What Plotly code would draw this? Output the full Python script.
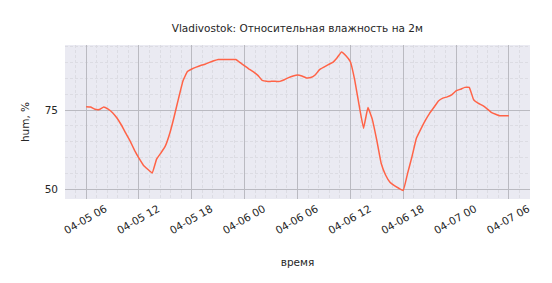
import pandas as pd
import plotly.graph_objects as go

title_text = "Vladivostok: Относительная влажность на 2м"
x_title = "время"
y_title = "hum, %"

start_time = "2024-04-05 06:00"
step = "30min"
hum = [
    76.1, 76.0, 75.3, 75.2, 76.0, 75.3, 74.2, 72.5, 70.3, 67.7,
    65.2, 62.3, 59.8, 57.6, 56.3, 55.1, 59.5, 61.5, 63.7, 67.7,
    73.0, 78.8, 84.3, 87.2, 88.0, 88.6, 89.1, 89.5, 90.1, 90.6,
    91.0, 91.0, 91.0, 91.0, 91.0, 90.0, 89.0, 88.0, 87.1, 86.0,
    84.4, 84.1, 84.1, 84.1, 84.1, 84.6, 85.3, 85.8, 86.1, 85.8,
    85.2, 85.3, 86.1, 87.8, 88.6, 89.4, 90.1, 91.6, 93.4, 92.2,
    90.3, 84.5, 76.5, 69.3, 75.8, 72.0, 65.5, 58.2, 54.5, 52.2,
    51.1, 50.3, 49.6, 55.0, 60.3, 66.1, 69.0, 71.7, 74.0, 75.9,
    77.9, 78.8, 79.2, 79.8, 81.1, 81.6, 82.2, 82.2, 78.3, 77.2,
    76.5, 75.5, 74.3, 73.7, 73.2, 73.2, 73.2,
]
times = pd.date_range(start_time, periods=len(hum), freq=step)

y_tick_vals = [50, 75]
y_tick_text = ["50", "75"]

fig = go.Figure()
fig.add_trace(go.Scatter(
    x=times, y=hum, mode="lines",
    line=dict(color="#FF6347", width=1.5, shape="spline", smoothing=0.3),
    showlegend=False,
))

font_family = "DejaVu Sans"
fig.update_layout(
    width=552, height=283,
    margin=dict(l=65, r=22, t=45, b=84),
    paper_bgcolor="white",
    plot_bgcolor="#EAEAF2",
    font=dict(family=font_family, size=10, color="#262626"),
    title=dict(text=title_text, x=0.5386, xanchor="center", y=0.9, yanchor="middle",
               font=dict(size=10.5, color="#262626")),
)
fig.update_xaxes(
    range=["2024-04-05 03:36", "2024-04-07 08:24"],
    tick0="2024-04-05 00:00", dtick=6 * 3600 * 1000,
    tickformat="%m-%d %H", tickangle=-30,
    ticklabelshift=19, ticklabelstandoff=1,
    ticks="", showline=False, zeroline=False,
    showgrid=True, gridcolor="#BABAC1", gridwidth=1,
    minor=dict(tick0="2024-04-05 06:00", dtick=72 * 60 * 1000, showgrid=True,
               gridcolor="#DCDCE3", griddash="3px,2px", gridwidth=0.8, ticks=""),
    title=dict(text=x_title, standoff=23, font=dict(size=10.5)),
    tickfont=dict(size=10.5),
)
fig.update_yaxes(
    range=[46.9, 95.6],
    tickvals=y_tick_vals, ticktext=y_tick_text,
    ticks="", showline=False, zeroline=False,
    showgrid=True, gridcolor="#BABAC1", gridwidth=1,
    minor=dict(tick0=0, dtick=5, showgrid=True, gridcolor="#DCDCE3",
               griddash="3px,2px", gridwidth=0.8, ticks=""),
    ticklabelstandoff=6,
    title=dict(text=y_title, standoff=12, font=dict(size=10.5)),
    tickfont=dict(size=10.5),
)
fig.write_html("out.html")
